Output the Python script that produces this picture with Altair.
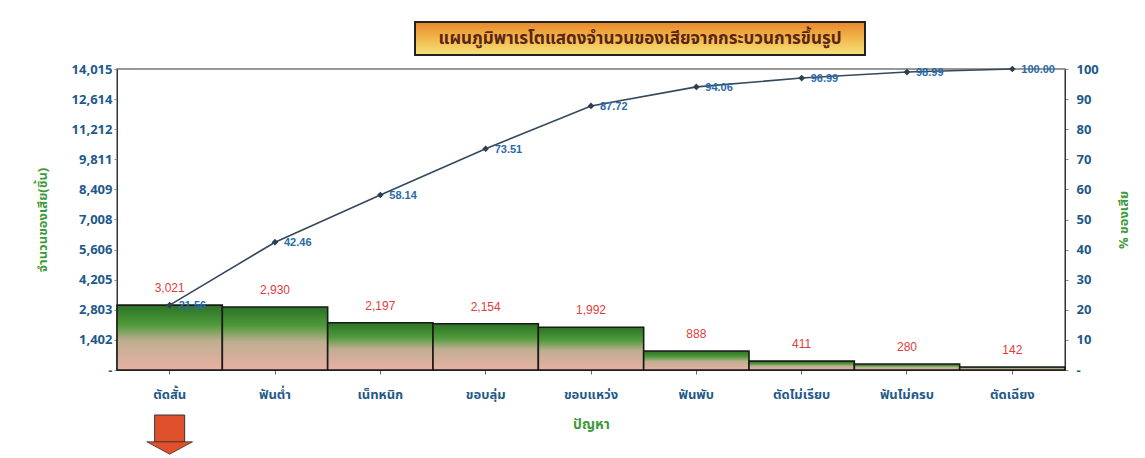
import altair as alt
import pandas as pd

categories = ["ตัดสั้น", "ฟันต่ำ", "เน็ทหนิก", "ขอบลุ่ม", "ขอบแหว่ง", "ฟันพับ", "ตัดไม่เรียบ", "ฟันไม่ครบ", "ตัดเฉียง"]
defects = [3021, 2930, 2197, 2154, 1992, 888, 411, 280, 142]
cum_pct = [21.56, 42.46, 58.14, 73.51, 87.72, 94.06, 96.99, 98.99, 100.00]
left_ticks = [0, 1402, 2803, 4205, 5606, 7008, 8409, 9811, 11212, 12614, 14015]
right_ticks = [0, 10, 20, 30, 40, 50, 60, 70, 80, 90, 100]
title_text = "แผนภูมิพาเรโตแสดงจำนวนของเสียจากกระบวนการขึ้นรูป"

df = pd.DataFrame({"cat": categories, "n": defects, "pct": cum_pct})
df["n_lbl"] = [f"{v:,}" for v in defects]
df["pct_lbl"] = [f"{v:.2f}" for v in cum_pct]

FONT = "Tahoma, 'Noto Sans Thai', 'Noto Sans Thai UI', Loma, Garuda, 'DejaVu Sans', sans-serif"
AXIS_BLUE = "#1f5a8a"
GREEN = "#3f9a3a"

xenc = alt.X("cat:N", sort=categories, scale=alt.Scale(paddingInner=0, paddingOuter=0),
             axis=alt.Axis(title="ปัญหา", labelAngle=0, labelPadding=14, labelFontSize=13,
                           labelFontWeight="bold", labelColor=AXIS_BLUE, titleColor=GREEN,
                           titleFontSize=14, titleFontWeight="bold", titlePadding=16,
                           tickSize=4, domainColor="#333", tickColor="#666", labelFont=FONT, titleFont=FONT))

bar_grad = alt.LinearGradient(gradient="linear", x1=0, x2=0, y1=0, y2=1,
                              stops=[alt.GradientStop(color="#2c7226", offset=0),
                                     alt.GradientStop(color="#4e9a3a", offset=0.3),
                                     alt.GradientStop(color="#bfae90", offset=0.55),
                                     alt.GradientStop(color="#e8b0a4", offset=1)])

yleft = alt.Y("n:Q", scale=alt.Scale(domain=[0, 14015], nice=False),
              axis=alt.Axis(title="จำนวนของเสีย(ชิ้น)", values=left_ticks,
                            labelExpr="datum.value == 0 ? '-' : format(datum.value, ',')",
                            labelFontSize=13, labelFontWeight="bold", labelColor=AXIS_BLUE,
                            titleColor=GREEN, titleFontSize=13, titleFontWeight="bold",
                            titlePadding=22, grid=False, tickSize=3, domainColor="#333",
                            labelFont=FONT, titleFont=FONT))

bars = alt.Chart(df).mark_bar(fill=bar_grad, stroke="#1a1a1a", strokeWidth=1.6).encode(x=xenc, y=yleft)
bar_labels = alt.Chart(df).mark_text(color="#e03c3c", fontSize=12, dy=-17, font="Arial").encode(
    x=xenc, y=yleft, text="n_lbl:N")

arrow = alt.Chart(df.head(1)).mark_rect(color="#e0502a", stroke="#333", strokeWidth=1, width=30).encode(
    x=xenc, y=alt.value(346), y2=alt.value(373))
arrow_head = alt.Chart(df.head(1)).mark_point(shape="M -1 -0.27 L 1 -0.27 L 0 0.27 Z", filled=True,
                                              color="#e0502a", stroke="#333", strokeWidth=0.8,
                                              size=2100, opacity=1).encode(x=xenc, y=alt.value(379))

left_layer = alt.layer(bars, bar_labels, arrow, arrow_head)

yright = alt.Y("pct:Q", scale=alt.Scale(domain=[0, 100], nice=False),
               axis=alt.Axis(title="% ของเสีย", values=right_ticks, orient="right",
                             labelExpr="datum.value == 0 ? '-' : datum.value",
                             labelFontSize=13, labelFontWeight="bold", labelColor=AXIS_BLUE,
                             titleColor=GREEN, titleFontSize=13, titleFontWeight="bold",
                             titleAngle=270, titlePadding=32, grid=False, tickSize=3,
                             domainColor="#333", labelPadding=8, labelFont=FONT, titleFont=FONT))

line = alt.Chart(df).mark_line(color="#34495e", strokeWidth=1.6).encode(x=xenc, y=yright)
pts = alt.Chart(df).mark_point(shape="diamond", filled=True, color="#2c3e50", size=45, opacity=1).encode(
    x=xenc, y=yright)
pt_labels = alt.Chart(df).mark_text(color="#2a6aa8", fontSize=11, fontWeight="bold", align="left",
                                    dx=9, dy=1, font="Arial").encode(x=xenc, y=yright, text="pct_lbl:N")

right_layer = alt.layer(line, pts, pt_labels)

title_box = alt.Chart(df.head(1)).mark_rect(
    fill=alt.LinearGradient(gradient="linear", x1=0, x2=0, y1=0, y2=1,
                            stops=[alt.GradientStop(color="#e8862a", offset=0),
                                   alt.GradientStop(color="#f2b84a", offset=0.5),
                                   alt.GradientStop(color="#f6e27a", offset=1)]),
    stroke="#222", strokeWidth=2).encode(
    x=alt.value(298), x2=alt.value(748), y=alt.value(-47), y2=alt.value(-14))
title_lbl = alt.Chart(df.head(1)).mark_text(text=title_text, color="#5a2416", fontSize=17,
                                            fontWeight="bold", font=FONT).encode(
    x=alt.value(523), y=alt.value(-30))

chart = alt.layer(left_layer, right_layer, title_box, title_lbl).resolve_scale(y="independent").properties(
    width=948, height=301,
    autosize=alt.AutoSizeParams(type="none"),
    padding={"left": 117, "top": 69, "right": 80, "bottom": 88},
    background="white",
).configure_view(stroke="#777", strokeWidth=1.5)

chart.save("out.html", embed_options={"renderer": "svg", "actions": False})
